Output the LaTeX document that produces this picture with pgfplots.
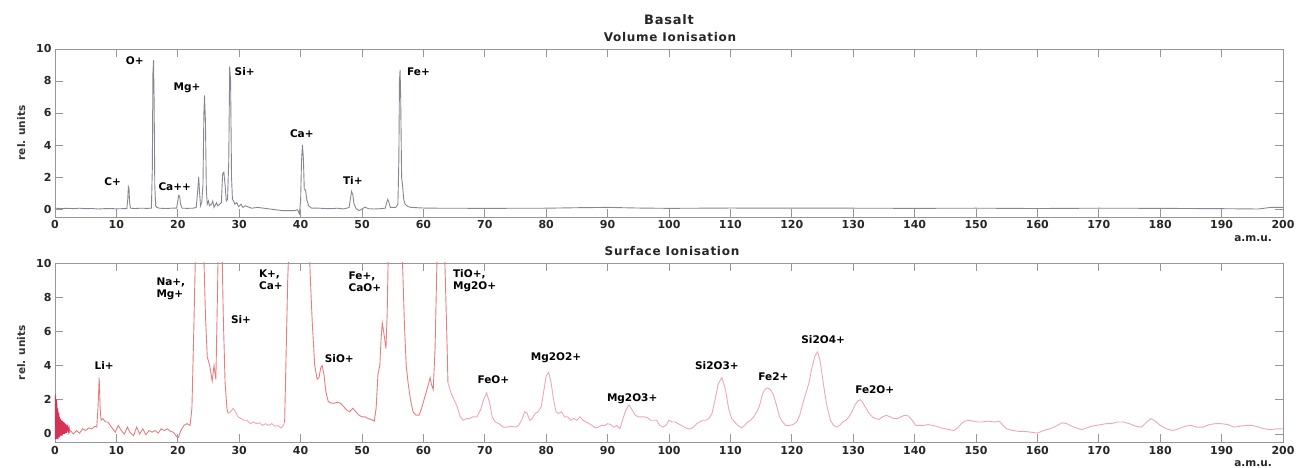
\documentclass[border=0pt]{standalone}
\usepackage{fontspec}
\setmainfont{DejaVu Sans}
\newfontfamily\titlefont{DejaVu Sans}[LetterSpace=6]
\usepackage{pgfplots}
\pgfplotsset{compat=1.18}
\definecolor{vgray}{RGB}{135,135,148}
\definecolor{sred}{RGB}{232,125,128}
\definecolor{spink}{RGB}{240,168,178}
\definecolor{scrim}{RGB}{214,50,85}
\definecolor{axgray}{RGB}{150,150,155}
\newcommand{\lbl}{\fontsize{10.5}{12}\selectfont\bfseries}
\pgfplotsset{myax/.style={
  scale only axis, width=1228pt,
  xmin=0, xmax=200, ymin=-0.5, ymax=10,
  xtick={0,10,...,200}, ytick={0,2,...,10},
  axis line style={axgray, line width=0.8pt},
  tick style={axgray, line width=0.7pt},
  major tick length=8pt,
  tick label style={font=\fontsize{11}{13}\selectfont\bfseries, text=black!85},
  /pgf/number format/assume math mode=true,
  ylabel={rel. units},
  ylabel style={at={(axis description cs:-0.024,0.5)}, anchor=south, inner sep=0pt, font=\fontsize{10.5}{12}\selectfont\bfseries, text=black!80},
  xlabel={a.m.u.},
  xlabel style={at={(axis description cs:0.9756,0)}, anchor=north, yshift=-18pt, inner sep=0pt, font=\fontsize{10.5}{12}\selectfont\bfseries, text=black!85},
}}
\begin{document}
\begin{tikzpicture}
\useasboundingbox (0,0) rectangle (1300pt,468pt);
\node[font=\fontsize{13}{15}\selectfont\bfseries\titlefont, text=black!85] at (669pt,448pt) {Basalt};
\node[font=\fontsize{12}{14}\selectfont\bfseries\titlefont, text=black!85] at (670pt,431pt) {Volume Ionisation};
\node[font=\fontsize{12}{14}\selectfont\bfseries\titlefont, text=black!85] at (672pt,217pt) {Surface Ionisation};

% ---------------- Volume ionisation ----------------
\begin{axis}[myax, height=168pt, at={(55pt,251pt)}, anchor=south west]
\addplot[vgray, line width=0.9pt] coordinates {
(0,0.05)(1,0.03)(2,0.04)(3,0.02)(4,0.05)(5,0.02)(6,0.03)(7,0.0)(8,0.02)(9,0.03)(10,0.01)(11,0.02)
(11.7,0.03)(11.85,0.6)(11.95,1.4)(12.05,1.3)(12.15,0.4)(12.3,0.05)(13,0.03)(14,0.05)(15,0.04)
(15.7,0.05)(15.85,2.5)(15.95,8.5)(16.05,9.3)(16.15,6.5)(16.25,1.5)(16.4,0.2)(16.6,0.1)
(17,0.05)(18,0.03)(19,0.05)(19.8,0.05)(20.0,0.5)(20.15,0.85)(20.3,0.8)(20.45,0.3)(20.7,0.05)
(21.5,0.04)(22.5,0.05)(23.0,0.1)(23.25,1.2)(23.4,2.0)(23.55,1.0)(23.7,0.2)(23.9,0.4)
(24.1,1.5)(24.25,6.0)(24.35,7.1)(24.5,5.5)(24.65,1.2)(24.8,0.3)(25.0,0.5)(25.15,0.2)
(25.5,0.3)(25.7,0.5)(25.9,0.1)(26.3,0.4)(26.5,0.2)(26.8,0.3)(27.1,0.4)(27.3,2.2)(27.5,2.3)
(27.7,1.5)(27.9,0.5)(28.1,0.6)(28.3,3.0)(28.45,8.9)(28.6,8.0)(28.75,2.0)(28.9,0.6)(29.1,0.5)
(29.3,0.3)(29.6,0.4)(29.9,0.15)(30.3,0.3)(30.6,0.1)(31,0.2)(32,0.05)(33,0.1)(34,0.05)(35,0.0)
(36,-0.05)(37,-0.1)(38,-0.1)(39,-0.1)(39.5,-0.05)(39.8,-0.3)(40.0,0.5)(40.15,3.0)(40.3,4.0)
(40.45,3.2)(40.6,1.2)(40.8,1.2)(41.0,0.6)(41.3,0.2)(41.8,0.05)(43,0.05)(44,0.03)(45,0.02)
(46,0.05)(47,0.0)(47.5,0.05)(47.9,0.1)(48.1,0.6)(48.3,1.1)(48.5,0.9)(48.7,0.3)(49,0.05)
(49.5,-0.1)(50.0,0.0)(50.5,0.12)(51,0.02)(52,0.0)(53,0.02)(53.8,0.05)(54.0,0.4)(54.2,0.6)
(54.4,0.4)(54.6,0.1)(55.0,0.1)(55.5,0.1)(55.85,0.3)(56.0,3.0)(56.1,8.0)(56.2,8.7)(56.3,7.0)
(56.45,2.0)(56.6,1.5)(56.8,0.6)(57.0,0.3)(57.5,0.15)(58,0.1)(59,0.08)(60,0.06)(62,0.05)
(70,0.04)(80,0.05)(85,0.08)(90,0.1)(95,0.06)(100,0.04)(110,0.06)(120,0.05)(130,0.05)
(140,0.04)(150,0.05)(160,0.03)(170,0.05)(180,0.04)(190,0.02)(196,0.0)(198,0.1)(200,0.1)
};
\node[font=\lbl] at (axis cs:13.0,9.25) {O+};
\node[font=\lbl] at (axis cs:21.5,7.6) {Mg+};
\node[font=\lbl] at (axis cs:30.9,8.6) {Si+};
\node[font=\lbl] at (axis cs:9.4,1.7) {C+};
\node[font=\lbl] at (axis cs:19.5,1.4) {Ca++};
\node[font=\lbl] at (axis cs:40.2,4.7) {Ca+};
\node[font=\lbl] at (axis cs:48.5,1.75) {Ti+};
\node[font=\lbl] at (axis cs:59.2,8.6) {Fe+};
\end{axis}

% ---------------- Surface ionisation ----------------
\begin{axis}[myax, height=179.5pt, at={(55pt,25.5pt)}, anchor=south west]
\addplot[scrim, line width=0.6pt] coordinates {
(0,-0.3)(0.05,2.3)(0.1,-0.3)(0.15,2.2)(0.2,-0.3)(0.25,2.0)(0.3,-0.3)(0.35,1.8)(0.4,-0.3)
(0.45,1.5)(0.5,-0.3)(0.55,1.3)(0.6,-0.2)(0.65,1.2)(0.7,-0.2)(0.75,1.0)(0.8,-0.2)(0.85,0.9)
(0.9,-0.1)(0.95,0.9)(1.0,-0.1)(1.05,0.8)(1.1,-0.1)(1.15,0.8)(1.2,-0.1)(1.25,0.75)(1.3,0.0)
(1.35,0.7)(1.4,0.0)(1.45,0.7)(1.5,0.0)(1.55,0.65)(1.6,0.0)(1.65,0.6)(1.7,0.05)(1.75,0.6)
(1.8,0.05)(1.85,0.55)(1.9,0.05)(1.95,0.5)(2.0,0.1)(2.1,0.45)(2.2,0.1)(2.3,0.4)(2.4,0.1)(2.5,0.2)
};
\addplot[sred, line width=0.9pt] coordinates {
(2.5,0.2)(3,0.0)(3.5,0.2)(4,0.05)(4.5,0.3)(5,0.2)(5.5,0.35)(6,0.3)(6.5,0.45)(6.8,0.4)
(7.0,1.5)(7.2,3.3)(7.35,1.5)(7.5,0.8)(7.8,0.9)(8.2,0.7)(8.6,0.7)(9.0,0.5)(9.4,0.3)(9.8,0.1)
(10.3,0.5)(10.8,0.2)(11.3,0.0)(11.8,0.4)(12.2,0.1)(12.8,-0.1)(13.3,0.4)(13.8,0.0)(14.3,0.3)
(14.8,-0.05)(15.3,0.2)(15.8,0.1)(16.3,0.2)(16.8,0.05)(17.3,0.3)(17.8,0.2)(18.3,0.3)(18.8,0.15)
(19.3,0.1)(19.8,-0.15)(20.1,-0.2)(20.5,0.2)(21.0,0.5)(21.5,0.6)(22.0,0.5)(22.3,1.5)(22.6,6)
(22.9,11)(23.5,14)(24.2,11)(24.5,7)(24.8,4.5)(25.2,4.0)(25.6,3.1)(25.9,4)(26.2,3.2)(26.4,7)
(26.6,11)(27.0,14)(27.2,11)(27.4,7)(27.7,3)(28.0,1.5)(28.2,1.2)
};
\addplot[spink, line width=0.9pt] coordinates {
(28.2,1.2)(28.6,1.3)(29.0,1.5)(29.4,1.3)(29.8,1.0)(30.3,0.9)(30.8,0.8)(31.3,0.8)(31.8,0.6)
(32.3,0.7)(32.8,0.6)(33.3,0.65)(33.8,0.5)(34.3,0.6)(34.8,0.5)(35.3,0.6)(35.8,0.45)(36.3,0.5)
(36.8,0.35)(37.2,0.5)(37.4,0.7)
};
\addplot[sred, line width=0.9pt] coordinates {
(37.4,0.7)(37.6,4)(37.9,9)(38.2,12)(39,15)(40.5,15)(41.3,12)(41.6,9)(41.9,6.5)(42.3,4)
(42.7,3.2)(43.0,3.3)(43.3,3.9)(43.5,4.0)(43.8,3.5)(44.1,2.5)(44.5,1.9)(45.0,1.8)(45.5,1.8)
(46,1.85)(46.5,1.8)(47,1.6)(47.5,1.4)(48.0,1.3)(48.5,1.5)(49.0,1.3)(49.5,1.1)(50.0,1.0)
(50.5,1.0)(51,0.9)(51.5,0.85)(52.0,0.75)(52.3,1.5)(52.6,3.5)(52.9,4.0)(53.1,5.5)(53.3,6.5)
(53.6,5.8)(53.9,5.0)(54.1,7)(54.3,11)(55,14)(56.2,14)(56.6,10)(56.9,6.5)(57.2,4)(57.5,3)
(57.9,2)(58.3,1.3)(58.8,1.1)(59.3,1.1)(59.7,1.5)(60.1,2.0)(60.5,2.5)(60.9,3.0)(61.1,3.3)
(61.3,2.9)(61.6,2.6)(61.9,5)(62.2,10)(62.5,14)(63.2,14)(63.5,10)(63.8,6)(64.0,3)
};
\addplot[spink, line width=0.9pt] coordinates {
(64.0,3)(64.5,2.4)(65.0,2.0)(65.5,1.6)(66,1.0)(66.5,0.8)(67.0,0.9)(67.5,0.9)(68,1.0)(68.7,1.0)
(69.3,1.4)(69.8,2.0)(70.3,2.4)(70.8,1.8)(71.2,1.0)(71.7,0.7)(72.3,0.6)(73,0.4)(73.6,0.4)
(74.3,0.45)(75,0.4)(75.5,0.5)(76.0,0.8)(76.5,1.3)(76.9,1.2)(77.3,0.8)(77.7,0.9)(78.2,1.2)
(78.7,1.3)(79.2,1.6)(79.6,2.5)(80.0,3.4)(80.4,3.6)(80.8,3.0)(81.2,2.0)(81.6,1.3)(82.0,1.2)
(82.5,1.3)(83,1.0)(83.5,1.0)(84,0.8)(84.5,0.9)(85,0.8)(85.5,1.0)(86,0.8)(86.5,0.7)(87,0.6)
(87.5,0.5)(88,0.35)(88.5,0.4)(89,0.5)(89.5,0.5)(90,0.6)(90.5,0.55)(91,0.4)(91.5,0.5)(92,0.3)
(92.5,0.9)(93.0,1.4)(93.5,1.7)(94,1.4)(94.5,1.1)(95,1.0)(95.5,1.0)(96,1.0)(96.5,0.95)(97,0.8)
(97.5,0.8)(98,0.8)(98.5,0.5)(99,0.4)(99.5,0.5)(100,0.8)(100.5,0.7)(101,0.7)(101.5,0.6)
(102,0.5)(102.5,0.4)(103,0.3)(103.5,0.3)(104,0.4)(104.5,0.6)(105,0.7)(105.5,0.8)(106,0.8)
(106.5,0.9)(107,1.2)(107.5,2.0)(108,2.9)(108.6,3.3)(109.2,2.6)(109.7,1.5)(110.2,0.9)
(110.7,0.7)(111.2,0.5)(111.8,0.35)(112.3,0.5)(112.8,0.7)(113.3,0.8)(113.8,1.0)(114.3,1.3)
(114.7,1.6)(115.2,2.3)(115.6,2.6)(116.0,2.7)(116.5,2.6)(117,2.3)(117.5,1.7)(118,1.0)
(118.5,0.7)(119.0,0.5)(119.6,0.5)(120.2,0.55)(120.8,0.7)(121.3,1.1)(121.8,1.8)(122.3,2.4)
(122.8,3.0)(123.3,3.9)(123.8,4.6)(124.2,4.8)(124.6,4.3)(125.0,3.3)(125.4,2.3)(125.8,1.5)
(126.3,0.8)(126.8,0.5)(127.3,0.4)(127.8,0.5)(128.3,0.7)(128.8,0.8)(129.3,1.0)(129.8,1.3)
(130.3,1.7)(130.8,1.95)(131.2,2.0)(131.6,1.8)(132.1,1.5)(132.6,1.2)(133.1,1.0)(133.6,0.9)
(134.2,0.85)(134.8,1.0)(135.4,1.1)(136,1.0)(136.6,0.9)(137.2,0.9)(137.8,1.0)(138.4,1.1)
(139,1.05)(139.6,0.8)(140.2,0.5)(140.8,0.5)(141.5,0.5)(142.2,0.55)(142.9,0.5)(143.6,0.45)
(144.3,0.35)(145,0.3)(145.7,0.25)(146.4,0.2)(147,0.35)(147.6,0.6)(148.2,0.75)(148.8,0.8)
(149.5,0.75)(150.2,0.7)(151,0.7)(152,0.75)(153,0.7)(153.8,0.75)(154.4,0.5)(155,0.3)(156,0.2)
(157,0.15)(158,0.15)(159,0.1)(160,0.05)(161,0.2)(162,0.3)(163,0.45)(164,0.65)(164.8,0.6)
(165.6,0.45)(166.4,0.35)(167.2,0.25)(168,0.35)(168.8,0.45)(169.6,0.5)(170.4,0.55)(171.2,0.6)
(172,0.6)(173,0.7)(174,0.7)(175,0.6)(176,0.45)(177,0.4)(177.8,0.7)(178.5,0.9)(179.2,0.75)
(180,0.5)(181,0.3)(182,0.2)(183,0.3)(184,0.45)(185,0.5)(186,0.4)(187,0.4)(188,0.55)(189,0.6)
(190,0.6)(191,0.55)(192,0.4)(193,0.45)(194,0.5)(195,0.5)(196,0.4)(197,0.3)(198,0.25)(199,0.3)(200,0.3)
};
\node[font=\lbl] at (axis cs:8.0,4.0) {Li+};
\node[font=\lbl, align=left, anchor=west, inner sep=0pt] at (axis cs:16.5,8.5) {Na+,\\Mg+};
\node[font=\lbl] at (axis cs:30.3,6.7) {Si+};
\node[font=\lbl, align=left, anchor=west, inner sep=0pt] at (axis cs:33.2,9.0) {K+,\\Ca+};
\node[font=\lbl] at (axis cs:46.3,4.4) {SiO+};
\node[font=\lbl, align=left, anchor=west, inner sep=0pt] at (axis cs:47.8,8.9) {Fe+,\\CaO+};
\node[font=\lbl, align=left, anchor=west, inner sep=0pt] at (axis cs:64.8,8.95) {TiO+,\\Mg2O+};
\node[font=\lbl] at (axis cs:71.4,3.2) {FeO+};
\node[font=\lbl] at (axis cs:81.6,4.45) {Mg2O2+};
\node[font=\lbl] at (axis cs:94.0,2.05) {Mg2O3+};
\node[font=\lbl] at (axis cs:107.8,4.0) {Si2O3+};
\node[font=\lbl] at (axis cs:117.0,3.35) {Fe2+};
\node[font=\lbl] at (axis cs:125.1,5.5) {Si2O4+};
\node[font=\lbl] at (axis cs:133.5,2.6) {Fe2O+};
\end{axis}
\end{tikzpicture}
\end{document}
